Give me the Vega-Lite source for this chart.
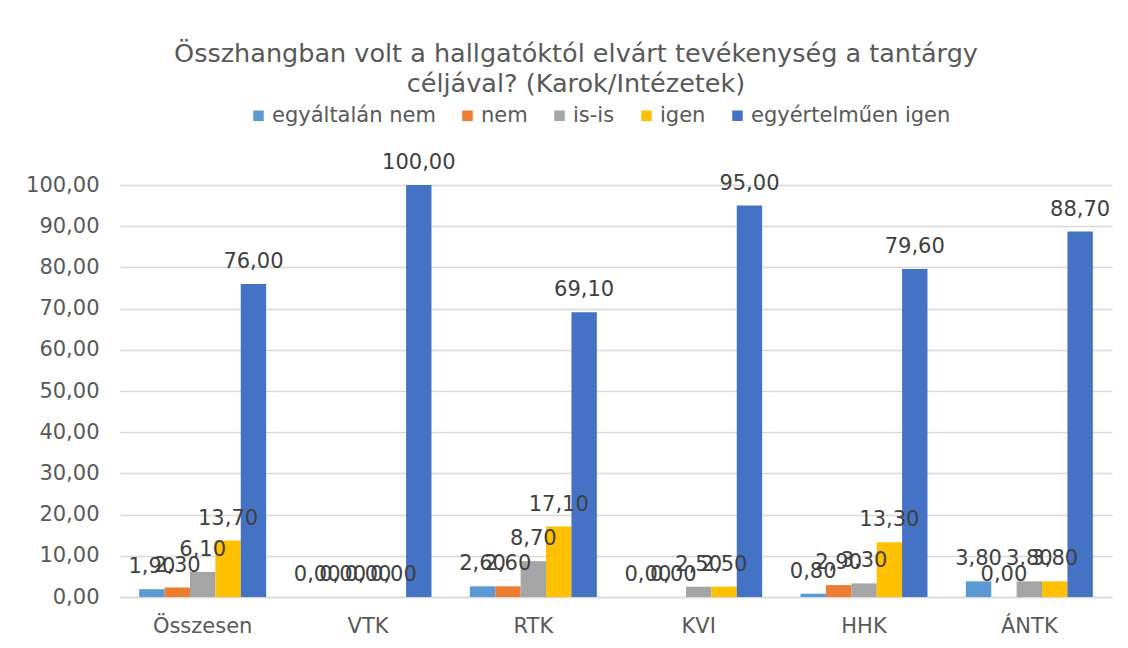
{
  "$schema": "https://vega.github.io/schema/vega-lite/v6.json",
  "autosize": "none",
  "width": 992,
  "height": 412,
  "padding": {"left": 120, "top": 185, "right": 16, "bottom": 51},
  "background": "#ffffff",
  "config": {
    "locale": {"number": {"decimal": ",", "thousands": " ", "grouping": [3], "currency": ["", ""]}},
    "font": "DejaVu Sans",
    "view": {"stroke": null}
  },
  "title": {
    "text": ["Összhangban volt a hallgatóktól elvárt tevékenység a tantárgy", "céljával? (Karok/Intézetek)"],
    "font": "DejaVu Sans",
    "fontSize": 25.5,
    "fontWeight": "normal",
    "color": "#595959",
    "anchor": "middle",
    "lineHeight": 30,
    "offset": 8,
    "dx": -40
  },
  "data": {
    "values": [
      {"kar": "Összesen", "valasz": "egyáltalán nem", "ertek": 1.9},
      {"kar": "Összesen", "valasz": "nem", "ertek": 2.3},
      {"kar": "Összesen", "valasz": "is-is", "ertek": 6.1},
      {"kar": "Összesen", "valasz": "igen", "ertek": 13.7},
      {"kar": "Összesen", "valasz": "egyértelműen igen", "ertek": 76.0},
      {"kar": "VTK", "valasz": "egyáltalán nem", "ertek": 0},
      {"kar": "VTK", "valasz": "nem", "ertek": 0},
      {"kar": "VTK", "valasz": "is-is", "ertek": 0},
      {"kar": "VTK", "valasz": "igen", "ertek": 0},
      {"kar": "VTK", "valasz": "egyértelműen igen", "ertek": 100.0},
      {"kar": "RTK", "valasz": "egyáltalán nem", "ertek": 2.6},
      {"kar": "RTK", "valasz": "nem", "ertek": 2.6},
      {"kar": "RTK", "valasz": "is-is", "ertek": 8.7},
      {"kar": "RTK", "valasz": "igen", "ertek": 17.1},
      {"kar": "RTK", "valasz": "egyértelműen igen", "ertek": 69.1},
      {"kar": "KVI", "valasz": "egyáltalán nem", "ertek": 0},
      {"kar": "KVI", "valasz": "nem", "ertek": 0},
      {"kar": "KVI", "valasz": "is-is", "ertek": 2.5},
      {"kar": "KVI", "valasz": "igen", "ertek": 2.5},
      {"kar": "KVI", "valasz": "egyértelműen igen", "ertek": 95.0},
      {"kar": "HHK", "valasz": "egyáltalán nem", "ertek": 0.8},
      {"kar": "HHK", "valasz": "nem", "ertek": 2.9},
      {"kar": "HHK", "valasz": "is-is", "ertek": 3.3},
      {"kar": "HHK", "valasz": "igen", "ertek": 13.3},
      {"kar": "HHK", "valasz": "egyértelműen igen", "ertek": 79.6},
      {"kar": "ÁNTK", "valasz": "egyáltalán nem", "ertek": 3.8},
      {"kar": "ÁNTK", "valasz": "nem", "ertek": 0},
      {"kar": "ÁNTK", "valasz": "is-is", "ertek": 3.8},
      {"kar": "ÁNTK", "valasz": "igen", "ertek": 3.8},
      {"kar": "ÁNTK", "valasz": "egyértelműen igen", "ertek": 88.7}
    ]
  },
  "encoding": {
    "x": {
      "field": "kar", "type": "nominal", "sort": null, "title": null,
      "scale": {"paddingInner": 0.232, "paddingOuter": 0.116},
      "axis": {"labelAngle": 0, "labelFontSize": 21, "labelColor": "#595959", "labelPadding": 18, "ticks": false, "domainColor": "#d9d9d9", "domainWidth": 1.5, "grid": false}
    },
    "xOffset": {
      "field": "valasz", "type": "nominal",
      "sort": ["egyáltalán nem", "nem", "is-is", "igen", "egyértelműen igen"]
    },
    "y": {
      "field": "ertek", "type": "quantitative", "title": null,
      "scale": {"domain": [0, 100], "nice": false},
      "axis": {"values": [0, 10, 20, 30, 40, 50, 60, 70, 80, 90, 100], "format": ".2f", "labelFontSize": 21, "labelColor": "#595959", "labelPadding": 21, "ticks": false, "domain": false, "gridColor": "#d9d9d9", "gridWidth": 1.5}
    }
  },
  "layer": [
    {
      "mark": {"type": "bar"},
      "encoding": {
        "color": {
          "field": "valasz", "type": "nominal",
          "sort": ["egyáltalán nem", "nem", "is-is", "igen", "egyértelműen igen"],
          "scale": {
            "domain": ["egyáltalán nem", "nem", "is-is", "igen", "egyértelműen igen"],
            "range": ["#5B9BD5", "#ED7D31", "#A5A5A5", "#FFC000", "#4472C4"]
          },
          "legend": {
            "title": null, "orient": "none", "direction": "horizontal",
            "legendX": 128, "legendY": -80,
            "symbolType": "square", "symbolSize": 110, "symbolStrokeWidth": 0,
            "labelFontSize": 21, "labelColor": "#595959", "labelOffset": 3,
            "labelLimit": 400, "columnPadding": 21, "symbolOffset": 0
          }
        }
      }
    },
    {
      "mark": {"type": "text", "baseline": "alphabetic", "dy": -16, "fontSize": 21, "color": "#404040"},
      "encoding": {
        "text": {"field": "ertek", "type": "quantitative", "format": ".2f"}
      }
    }
  ]
}
